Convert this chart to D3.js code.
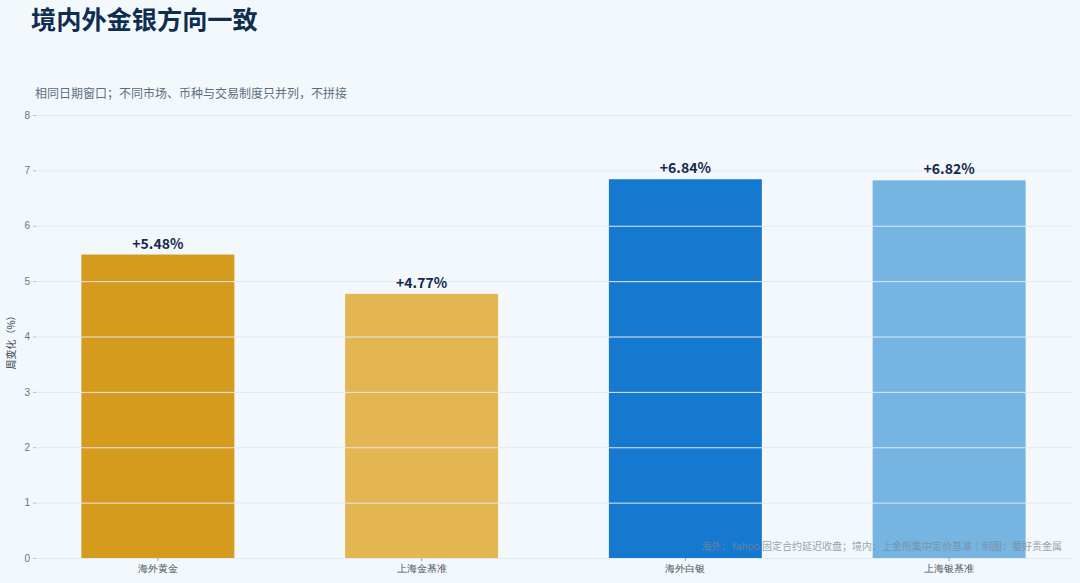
<!DOCTYPE html>
<html><head><meta charset="utf-8">
<script src="https://cdn.jsdelivr.net/npm/d3@7"></script>
<style>
html,body{margin:0;padding:0;background:#F3F8FD;}
svg{display:block;font-family:"Noto Sans CJK SC","Noto Sans",sans-serif;}
</style></head>
<body>
<svg id="c" width="1080" height="583"></svg>
<script>
const categories = ["海外黄金","上海金基准","海外白银","上海银基准"];
const values = [5.48, 4.77, 6.84, 6.82];
const labels = ["+5.48%","+4.77%","+6.84%","+6.82%"];
const colors = ["#D49B1C","#E3B652","#1679D0","#76B5E2"];
const yTicks = [0,1,2,3,4,5,6,7,8];

const svg = d3.select("#c");
svg.append("rect").attr("width",1080).attr("height",583).attr("fill","#F3F8FD");

const x = d3.scaleBand().domain(categories).range([26,1081]).paddingInner(0.42).paddingOuter(0.21);
const y = d3.scaleLinear().domain([0,8]).range([558,115]);

// bars
svg.selectAll("rect.bar").data(values).enter().append("rect")
  .attr("class","bar")
  .attr("x",(d,i)=>x(categories[i]))
  .attr("y",d=>y(d))
  .attr("width",x.bandwidth())
  .attr("height",d=>y(0)-y(d))
  .attr("fill",(d,i)=>colors[i]);

// gridlines on top
svg.append("g").selectAll("line").data(yTicks).enter().append("line")
  .attr("x1",36).attr("x2",1072)
  .attr("y1",d=>y(d)+0.5).attr("y2",d=>y(d)+0.5)
  .attr("stroke","#E1E9F1").attr("stroke-width",1);

// y axis
const ya = svg.append("g").attr("transform","translate(36,0)")
  .call(d3.axisLeft(y).tickValues(yTicks).tickSize(3).tickPadding(3));
ya.select(".domain").remove();
ya.selectAll("line").attr("stroke","#B5BEC8");
ya.selectAll("text").attr("fill","#6A7582").attr("font-size",10);

// x axis
const xa = svg.append("g").attr("transform","translate(0,558)")
  .call(d3.axisBottom(x).tickSize(3).tickPadding(4));
xa.select(".domain").remove();
xa.selectAll("line").attr("stroke","#9AA4AE");
xa.selectAll("text").attr("fill","#4A5563").attr("font-size",10);

// value labels
svg.selectAll("text.val").data(values).enter().append("text")
  .attr("class","val")
  .attr("x",(d,i)=>x(categories[i])+x.bandwidth()/2)
  .attr("y",d=>y(d)-6)
  .attr("text-anchor","middle")
  .attr("font-size",14).attr("font-weight","bold").attr("fill","#13294B")
  .text((d,i)=>labels[i]);

// y label
svg.append("text").attr("transform","translate(15,340) rotate(-90)")
  .attr("text-anchor","middle").attr("font-size",10).attr("fill","#333D48")
  .text("周变化（%）");

// title
svg.append("text").attr("x",31).attr("y",29)
  .attr("font-size",25.2).attr("font-weight","bold").attr("fill","#0F2E4F")
  .text("境内外金银方向一致");
svg.append("text").attr("x",35).attr("y",98)
  .attr("font-size",12).attr("fill","#5E6E80")
  .text("相同日期窗口；不同市场、币种与交易制度只并列，不拼接");

// footnote
svg.append("text").attr("x",1062).attr("y",550)
  .attr("text-anchor","end").attr("font-size",10).attr("fill","#7A8896").attr("opacity",0.75)
  .text("海外：Yahoo 固定合约延迟收盘；境内：上金所集中定价基准｜制图：要好贵金属");
</script>
</body></html>
